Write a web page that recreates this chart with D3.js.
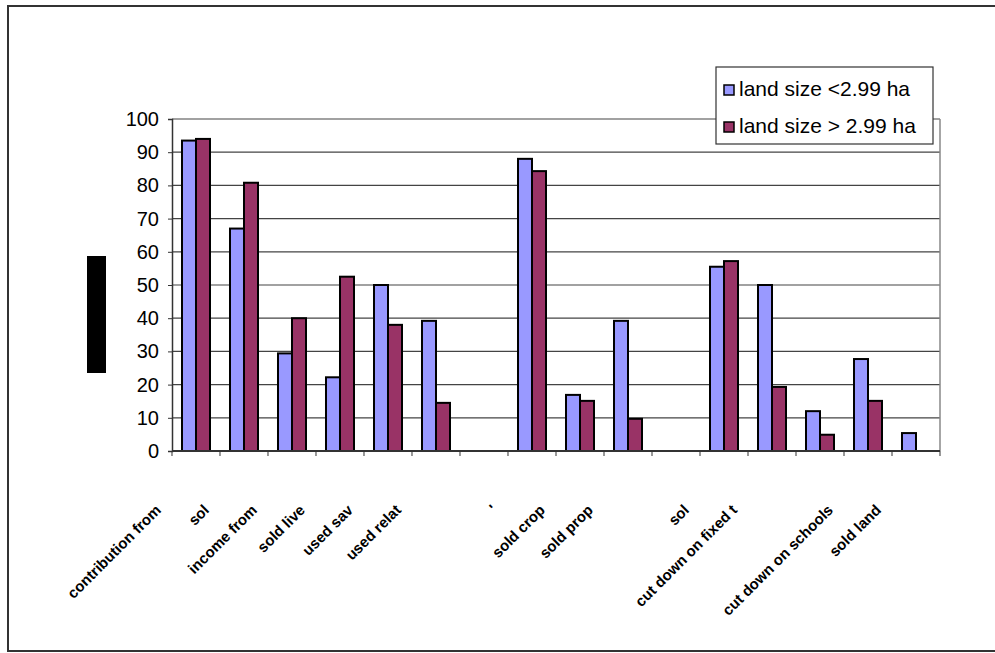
<!DOCTYPE html>
<html>
<head>
<meta charset="utf-8">
<script src="https://cdn.jsdelivr.net/npm/d3@7"></script>
<style>
  body { margin: 0; background: #fff; }
  svg { display: block; font-family: "Liberation Sans", Arial, sans-serif; }
</style>
</head>
<body>
<div class="chart"></div>
<script>
// category labels (as far as they can be read off the picture, '' = no label)
var categories = ['contribution from', 'sol', 'income from', 'sold live', 'used sav', 'used relat', '', "'",
    'sold crop', 'sold prop', '', 'sol', 'cut down on fixed t', '', 'cut down on schools', 'sold land']

var seriesNames = ['land size <2.99 ha', 'land size > 2.99 ha']
var smallLand = [93.5, 67, 29.4, 22.2, 50, 39.2, null, 88, 16.9, 39.2, null, 55.5, 50, 12, 27.7, 5.4]
var largeLand = [94, 80.8, 40, 52.5, 38, 14.5, null, 84.3, 15.1, 9.7, null, 57.2, 19.3, 4.9, 15.1, 0]
var yTicks = [0, 10, 20, 30, 40, 50, 60, 70, 80, 90, 100]

var colors = ['#9999ff', '#993366']

var svgWidth = 995
var svgHeight = 653
var margin = { top: 119, left: 172, right: 55, bottom: 202 }
var width = svgWidth - margin.left - margin.right
var height = svgHeight - margin.top - margin.bottom

var svg = d3.select('.chart').append('svg')
    .attr('width', svgWidth)
    .attr('height', svgHeight)

// outer chart border
svg.append('rect')
    .attr('x', 8).attr('y', 6)
    .attr('width', 992).attr('height', 645)
    .attr('fill', 'none')
    .attr('stroke', '#333')
    .attr('stroke-width', 2)

var chartGroup = svg.append('g')
    .attr('transform', `translate(${margin.left}, ${margin.top})`)

// each slot gets its own key, labels repeat
var keys = categories.map((c, i) => i)
var x = d3.scaleBand().domain(keys).range([0, width]).paddingInner(0.4167).paddingOuter(0.2083)
var xs = d3.scaleBand().domain(seriesNames).range([0, x.bandwidth()])
var y = d3.scaleLinear().domain([0, 100]).range([height, 0])

// gridlines
chartGroup.append('g')
    .selectAll('line')
    .data(yTicks.slice(1))
    .enter().append('line')
    .attr('x1', 0).attr('x2', width)
    .attr('y1', d => y(d)).attr('y2', d => y(d))
    .attr('stroke', '#444')
    .attr('stroke-width', 1.2)

// plot area border (right side)
chartGroup.append('line')
    .attr('x1', width).attr('x2', width)
    .attr('y1', 0).attr('y2', height)
    .attr('stroke', '#888')
    .attr('stroke-width', 1.5)

// bars
var rows = keys.map(i => ({ key: i, values: [smallLand[i], largeLand[i]] }))
var groups = chartGroup.selectAll('.grp')
    .data(rows)
    .enter().append('g')
    .attr('transform', d => `translate(${x(d.key)}, 0)`)

groups.selectAll('rect')
    .data(d => d.values.map((v, j) => ({ name: seriesNames[j], value: v, j: j })).filter(d => d.value))
    .enter().append('rect')
    .attr('x', d => xs(d.name))
    .attr('y', d => y(d.value))
    .attr('width', xs.bandwidth())
    .attr('height', d => y(0) - y(d.value))
    .attr('fill', d => colors[d.j])
    .attr('stroke', '#000')
    .attr('stroke-width', 2)

// Y axis
var yAxis = chartGroup.append('g')
    .call(d3.axisLeft(y).tickValues(yTicks).tickSize(4).tickPadding(9))
yAxis.select('.domain').attr('stroke', '#333').attr('stroke-width', 1.5)
yAxis.selectAll('line').attr('stroke', '#333')
yAxis.selectAll('text').attr('font-size', '20px').attr('fill', '#000').attr('font-family', 'Liberation Sans, Arial, sans-serif')

// X axis with ticks on category boundaries
var half = (x.step() - x.bandwidth()) / 2
var bounds = keys.map(k => x(k) - half).concat([width])
var xAxisG = chartGroup.append('g').attr('transform', `translate(0, ${height})`)
xAxisG.append('line')
    .attr('x1', 0).attr('x2', width)
    .attr('stroke', '#333').attr('stroke-width', 2)
xAxisG.selectAll('.tk')
    .data(bounds)
    .enter().append('line')
    .attr('x1', d => d).attr('x2', d => d)
    .attr('y1', 0).attr('y2', 5)
    .attr('stroke', '#333')

// rotated category labels
xAxisG.selectAll('.lbl')
    .data(keys.filter(k => categories[k]))
    .enter().append('text')
    .attr('transform', d => `translate(${x(d) + x.bandwidth() / 2 - 34}, 60) rotate(-45)`)
    .attr('text-anchor', 'end')
    .attr('font-size', '15px')
    .attr('font-weight', 'bold')
    .text(d => categories[d])

// y axis title (rendered as a solid black block in the picture)
svg.append('rect')
    .attr('x', 87).attr('y', 256)
    .attr('width', 19).attr('height', 117)
    .attr('fill', '#000')

// legend
var legend = svg.append('g').attr('transform', 'translate(716, 67)')
legend.append('rect')
    .attr('width', 217).attr('height', 77)
    .attr('fill', '#fff')
    .attr('stroke', '#333')
    .attr('stroke-width', 1.2)
var items = legend.selectAll('.item')
    .data(seriesNames)
    .enter().append('g')
    .attr('transform', (d, i) => `translate(8, ${18 + i * 37})`)
items.append('rect')
    .attr('width', 10).attr('height', 10)
    .attr('fill', (d, i) => colors[i])
    .attr('stroke', '#000')
    .attr('stroke-width', 1.5)
items.append('text')
    .attr('x', 15).attr('y', 11)
    .attr('font-size', '21px')
    .text(d => d)
</script>
</body>
</html>
